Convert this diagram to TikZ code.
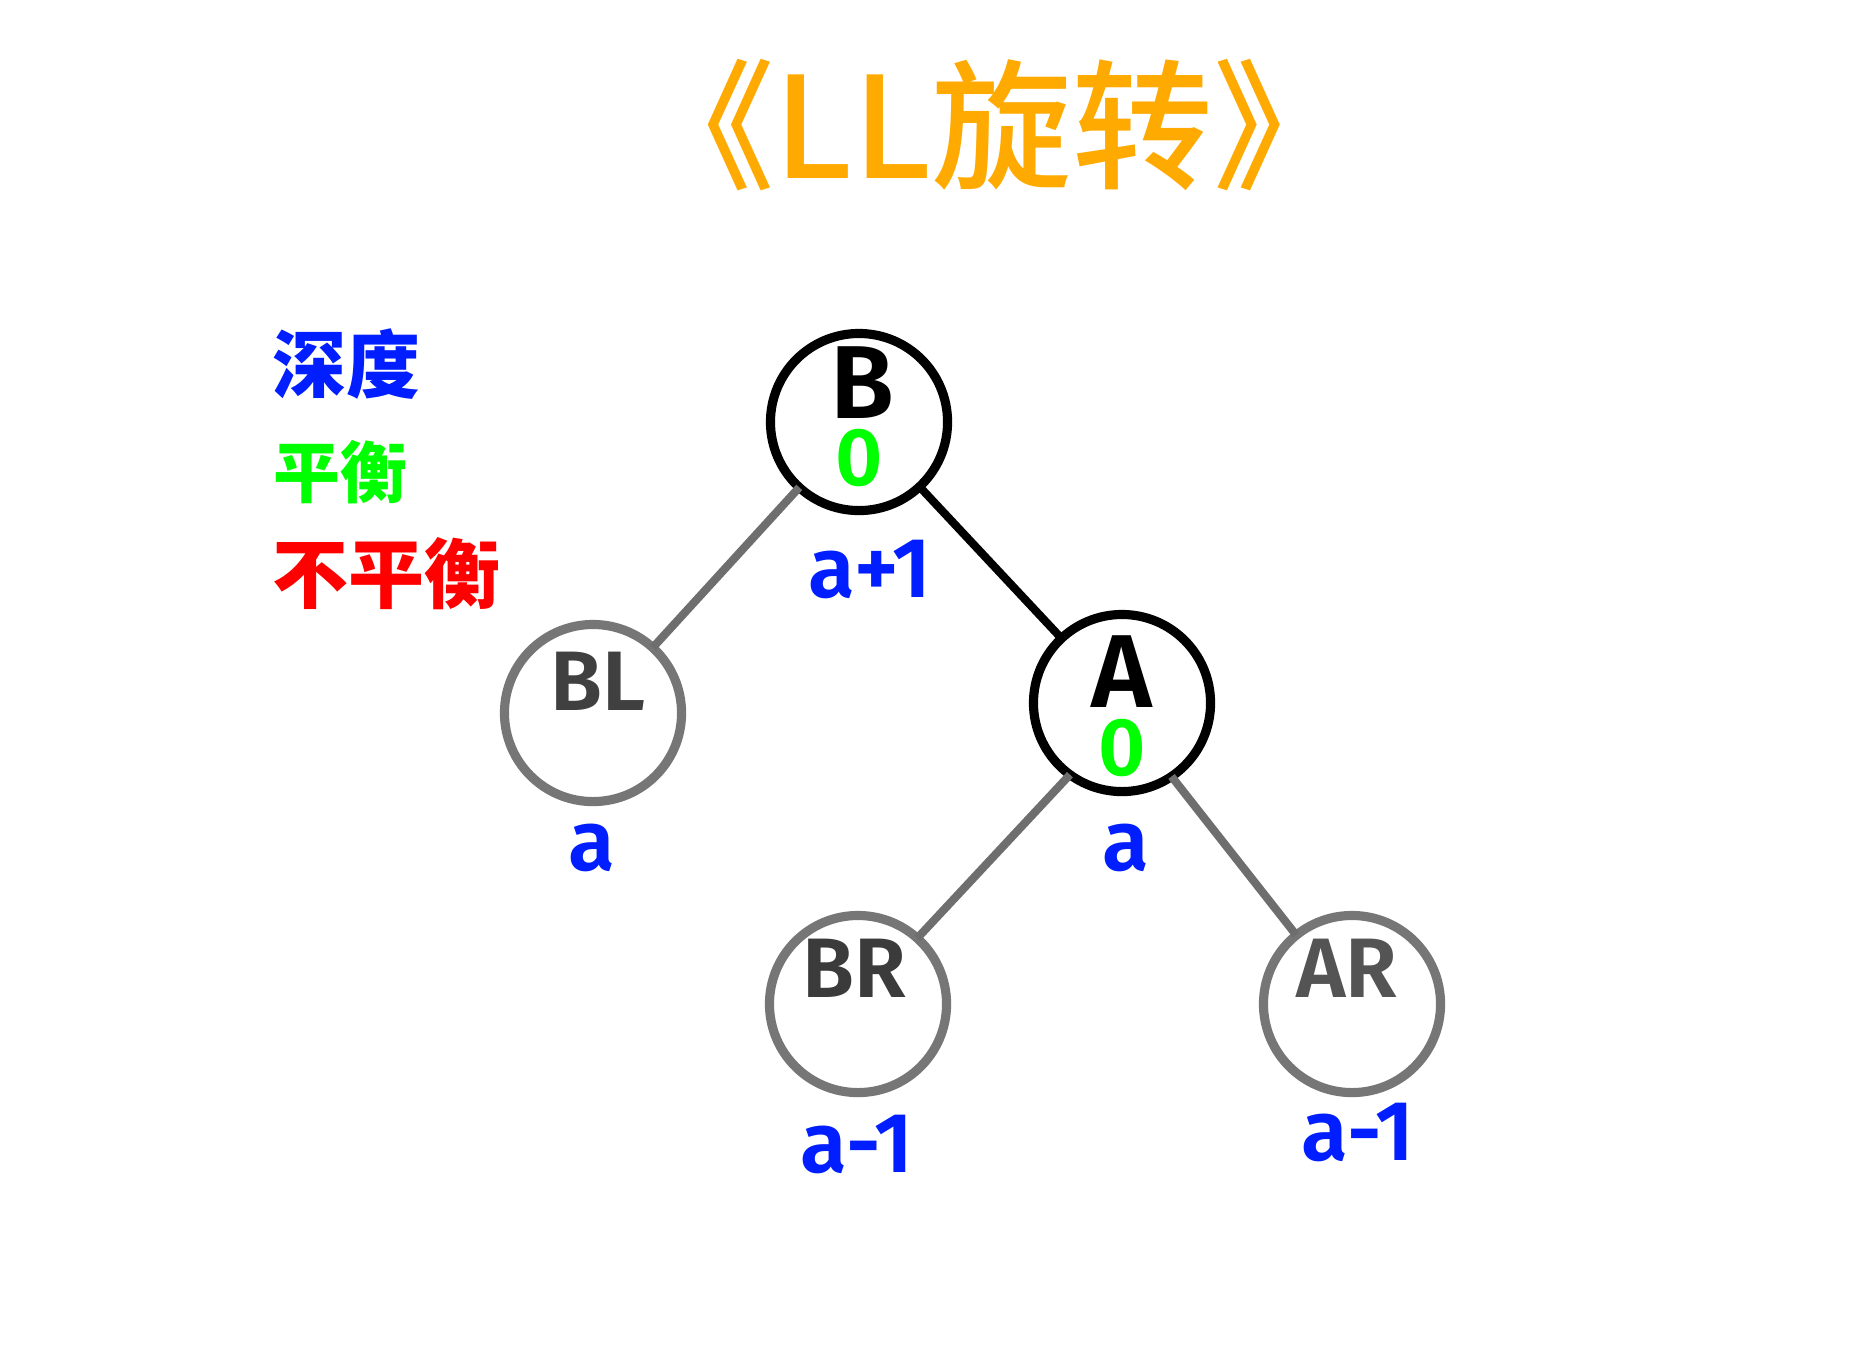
\documentclass[tikz,border=0pt]{standalone}
\usepackage{fontspec}
\setmainfont{Fira Sans}[BoldFont={Fira Sans SemiBold}]
\newfontfamily\cjk{Noto Sans CJK SC}
\newfontfamily\cjkmedium{Noto Sans CJK SC Medium}
\usetikzlibrary{positioning}

\definecolor{titleorange}{RGB}{255,170,0}
\definecolor{depthblue}{RGB}{0,30,255}
\definecolor{balgreen}{RGB}{0,255,0}
\definecolor{ringgray}{RGB}{118,118,118}
\definecolor{edgegray}{RGB}{110,110,110}

\begin{document}
\begin{tikzpicture}[
    x=0.01cm, y=-0.01cm,
    % Styles for the tree
    keynode/.style={circle, draw=black, line width=2.6pt, minimum size=1.77cm, inner sep=0pt, outer sep=0pt},
    subtree/.style={circle, draw=ringgray, line width=2.6pt, minimum size=1.77cm, inner sep=0pt, outer sep=0pt},
    keyedge/.style={line width=2.3pt, draw=black},
    subedge/.style={line width=2.3pt, draw=edgegray},
    % Styles for the texts
    keyname/.style={anchor=base, inner sep=0pt, font=\bfseries\fontsize{29.5pt}{31pt}\selectfont},
    subname/.style={anchor=base, inner sep=0pt, font=\bfseries\fontsize{24pt}{26pt}\selectfont},
    balval/.style={anchor=base, inner sep=0pt, text=balgreen, font=\bfseries\fontsize{23.3pt}{26pt}\selectfont},
    depthval/.style={anchor=base, inner sep=0pt, text=depthblue, font=\bfseries\fontsize{24.2pt}{28pt}\selectfont},
    legendtext/.style={anchor=base west, inner sep=0pt}
]

    % =========================================================================
    % 0. CANVAS
    % =========================================================================
    \fill[white] (0,0) rectangle (1874,1356);
    \useasboundingbox (0,0) rectangle (1874,1356);

    % =========================================================================
    % 1. TITLE
    % =========================================================================
    \node[anchor=base, inner sep=0pt, text=titleorange,
          font=\cjkmedium\fontsize{40pt}{46pt}\selectfont] (title) at (994,178)
        {《LL旋转》};

    % =========================================================================
    % 2. LEGEND
    % =========================================================================
    \node[legendtext, text=depthblue, font=\cjk\bfseries\fontsize{21pt}{24pt}\selectfont] (key_depth) at (272,392) {深度};
    \node[legendtext, text=balgreen, font=\cjk\bfseries\fontsize{19pt}{24pt}\selectfont] (key_bal) at (273,497) {平衡};
    \node[legendtext, text=red, font=\cjk\bfseries\fontsize{21.6pt}{24pt}\selectfont] (key_unbal) at (272,602) {不平衡};

    % =========================================================================
    % 3. THE TREE: RINGS & EDGES
    % =========================================================================
    \node[keynode] (B) at (859,422) {};
    \node[keynode] (A) at (1122,703) {};
    \node[subtree] (BL) at (593,713) {};
    \node[subtree] (BR) at (858,1004) {};
    \node[subtree] (AR) at (1352,1004) {};

    \draw[subedge] (B) -- (BL);
    \draw[keyedge] (B) -- (A);
    \draw[subedge] (A.234) -- (BR.48);
    \draw[subedge] (A.-56) -- (AR.129);

    % =========================================================================
    % 4. NAMES, BALANCE & DEPTH
    % =========================================================================
    \node[keyname] (B_name) at (862,418) {B};
    \node[balval] (B_bal) at (859,485) {0};
    \node[keyname] (A_name) at (1122,707) {A};
    \node[balval] (A_bal) at (1122,775) {0};

    \node[subname, text=black!75] (BL_name) at (598,710) {BL};
    \node[subname, text=black!77] (BR_name) at (854,997) {BR};
    \node[subname, text=black!67] (AR_name) at (1347,997) {AR};

    \node[depthval] (B_depth) at (870,597) {a+1};
    \node[depthval] (BL_depth) at (592,870) {a};
    \node[depthval] (A_depth) at (1126,870) {a};
    \node[depthval] (BR_depth) at (857,1172) {a-1};
    \node[depthval] (AR_depth) at (1358,1160) {a-1};

\end{tikzpicture}
\end{document}
